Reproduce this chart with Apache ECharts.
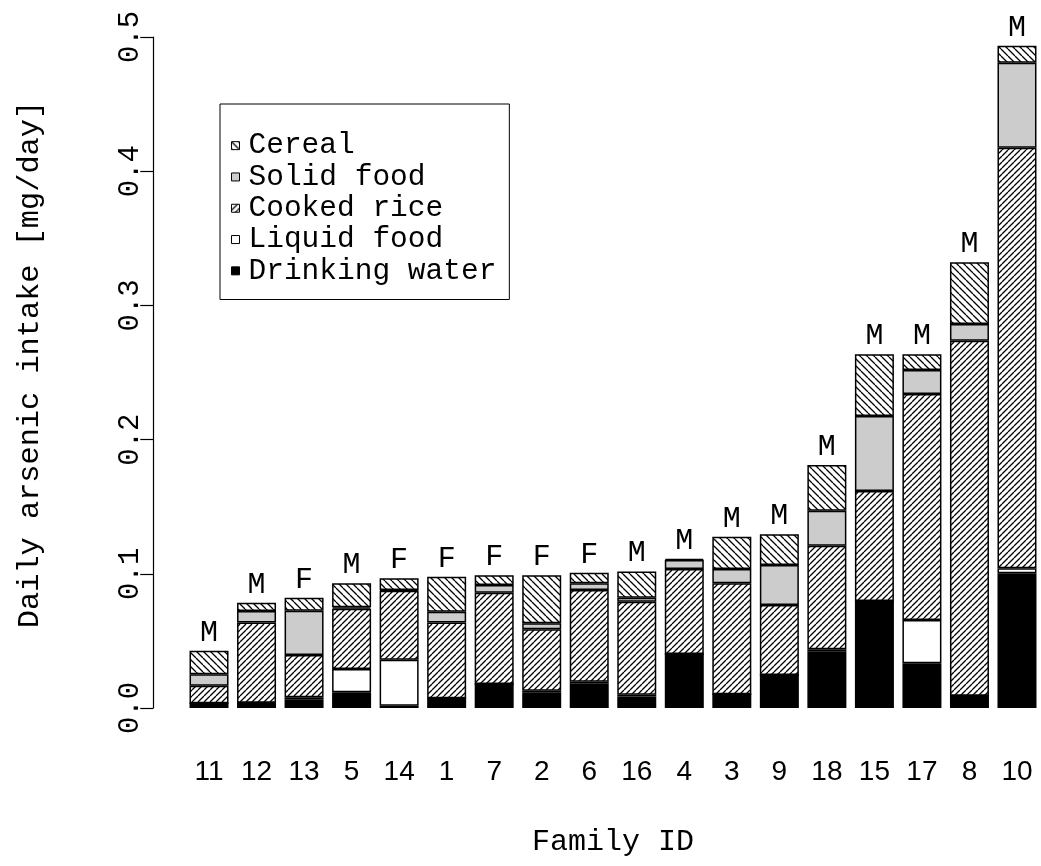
<!DOCTYPE html>
<html>
<head>
<meta charset="utf-8">
<script src="https://cdn.jsdelivr.net/npm/echarts@6/dist/echarts.min.js"></script>
<style>
html,body{margin:0;padding:0;background:#fff;}
#chart{width:1041px;height:866px;}
</style>
</head>
<body>
<div id="chart"></div>
<script>
// ---- data ----
var families = ['11','12','13','5','14','1','7','2','6','16','4','3','9','18','15','17','8','10'];
var sexLabels = ['M','M','F','M','F','F','F','F','F','M','M','M','M','M','M','M','M','M'];
var drinkingWater = [0.0035,0.0040,0.0065,0.0117,0.0017,0.0072,0.0179,0.0114,0.0181,0.0085,0.0402,0.0102,0.0246,0.0420,0.0797,0.0333,0.0092,0.1004];
var liquidFood    = [0,0,0.0015,0.0173,0.0343,0,0,0.0015,0.0015,0.0014,0,0,0,0.0017,0,0.0323,0,0.0037];
var cookedRice    = [0.0131,0.0598,0.0315,0.0450,0.0514,0.0566,0.0680,0.0457,0.0683,0.0693,0.0634,0.0827,0.0522,0.0772,0.0820,0.1684,0.2645,0.3134];
var solidFood     = [0.0085,0.0085,0.0330,0.0010,0.0005,0.0080,0.0058,0.0045,0.0050,0.0030,0.0067,0.0107,0.0298,0.0261,0.0559,0.0179,0.0124,0.0634];
var cereal        = [0.0176,0.0062,0.0097,0.0179,0.0087,0.0260,0.0072,0.0358,0.0079,0.0196,0.0007,0.0241,0.0228,0.0341,0.0460,0.0117,0.0460,0.0126];
var yTicks = [0, 0.1, 0.2, 0.3, 0.4, 0.5];

var MONO = "'Liberation Mono', 'DejaVu Sans Mono', monospace";
var SANS = "'Liberation Sans', Arial, sans-serif";

function hatch(size, back) {
  var c = document.createElement('canvas');
  c.width = size; c.height = size;
  var g = c.getContext('2d');
  g.fillStyle = '#fff';
  g.fillRect(0, 0, size, size);
  g.strokeStyle = '#000';
  g.lineWidth = 1.3;
  g.beginPath();
  for (var k = -size; k <= size; k += size) {
    if (back) { g.moveTo(k, 0); g.lineTo(k + size, size); }
    else { g.moveTo(k, size); g.lineTo(k + size, 0); }
  }
  g.stroke();
  return {image: c, repeat: 'repeat'};
}

var cerealFill = hatch(7, true);
var riceFill = hatch(6, false);

function barSeries(name, data, fill, extra) {
  var s = {
    name: name, type: 'bar', stack: 'total', data: data,
    barWidth: 39,
    itemStyle: {color: fill, borderColor: '#000', borderWidth: 1.5},
    emphasis: {disabled: true}
  };
  if (extra) for (var k in extra) s[k] = extra[k];
  return s;
}

var chart = echarts.init(document.getElementById('chart'), null, {renderer: 'canvas'});
chart.setOption({
  animation: false,
  backgroundColor: '#fff',
  grid: {left: 185.25, right: 0.25, top: 37, bottom: 158},
  legend: {
    orient: 'vertical', left: 220, top: 104,
    data: ['Cereal', 'Solid food', 'Cooked rice', 'Liquid food', 'Drinking water'],
    icon: 'rect', itemWidth: 8, itemHeight: 8, itemGap: 0,
    padding: [26, 13, 13, 11],
    borderColor: '#000', borderWidth: 1,
    textStyle: {fontFamily: MONO, fontSize: 29.5, lineHeight: 31.3, color: '#000', padding: [0, 0, 0, 4]},
    itemStyle: {borderColor: '#000', borderWidth: 1}
  },
  xAxis: {
    type: 'category', data: families,
    axisLine: {show: false}, axisTick: {show: false},
    axisLabel: {fontFamily: SANS, fontSize: 28, color: '#000', margin: 50, interval: 0},
    name: 'Family ID', nameLocation: 'middle', nameGap: 119,
    nameTextStyle: {fontFamily: MONO, fontSize: 30, color: '#000'}
  },
  yAxis: {
    type: 'value', min: 0, max: 0.5, interval: 0.1, offset: 32,
    axisLine: {show: true, lineStyle: {color: '#000', width: 1.2}},
    axisTick: {show: true, length: 13, lineStyle: {color: '#000', width: 1.2}},
    splitLine: {show: false},
    axisLabel: {
      rotate: 90, fontFamily: MONO, fontSize: 29, color: '#000', margin: 8,
      formatter: function (v) { return v.toFixed(1); }
    },
    name: 'Daily arsenic intake [mg/day]', nameLocation: 'middle', nameGap: 108,
    nameTextStyle: {fontFamily: MONO, fontSize: 30.3, color: '#000', padding: [0, 0, 0, 16]}
  },
  series: [
    barSeries('Drinking water', drinkingWater, '#000'),
    barSeries('Liquid food', liquidFood, '#fff'),
    barSeries('Cooked rice', cookedRice, riceFill),
    barSeries('Solid food', solidFood, '#cccccc'),
    barSeries('Cereal', cereal, cerealFill, {
      label: {
        show: true, position: 'top', distance: 3,
        fontFamily: MONO, fontSize: 30, color: '#000',
        formatter: function (p) { return sexLabels[p.dataIndex]; }
      }
    })
  ]
});
</script>
</body>
</html>
